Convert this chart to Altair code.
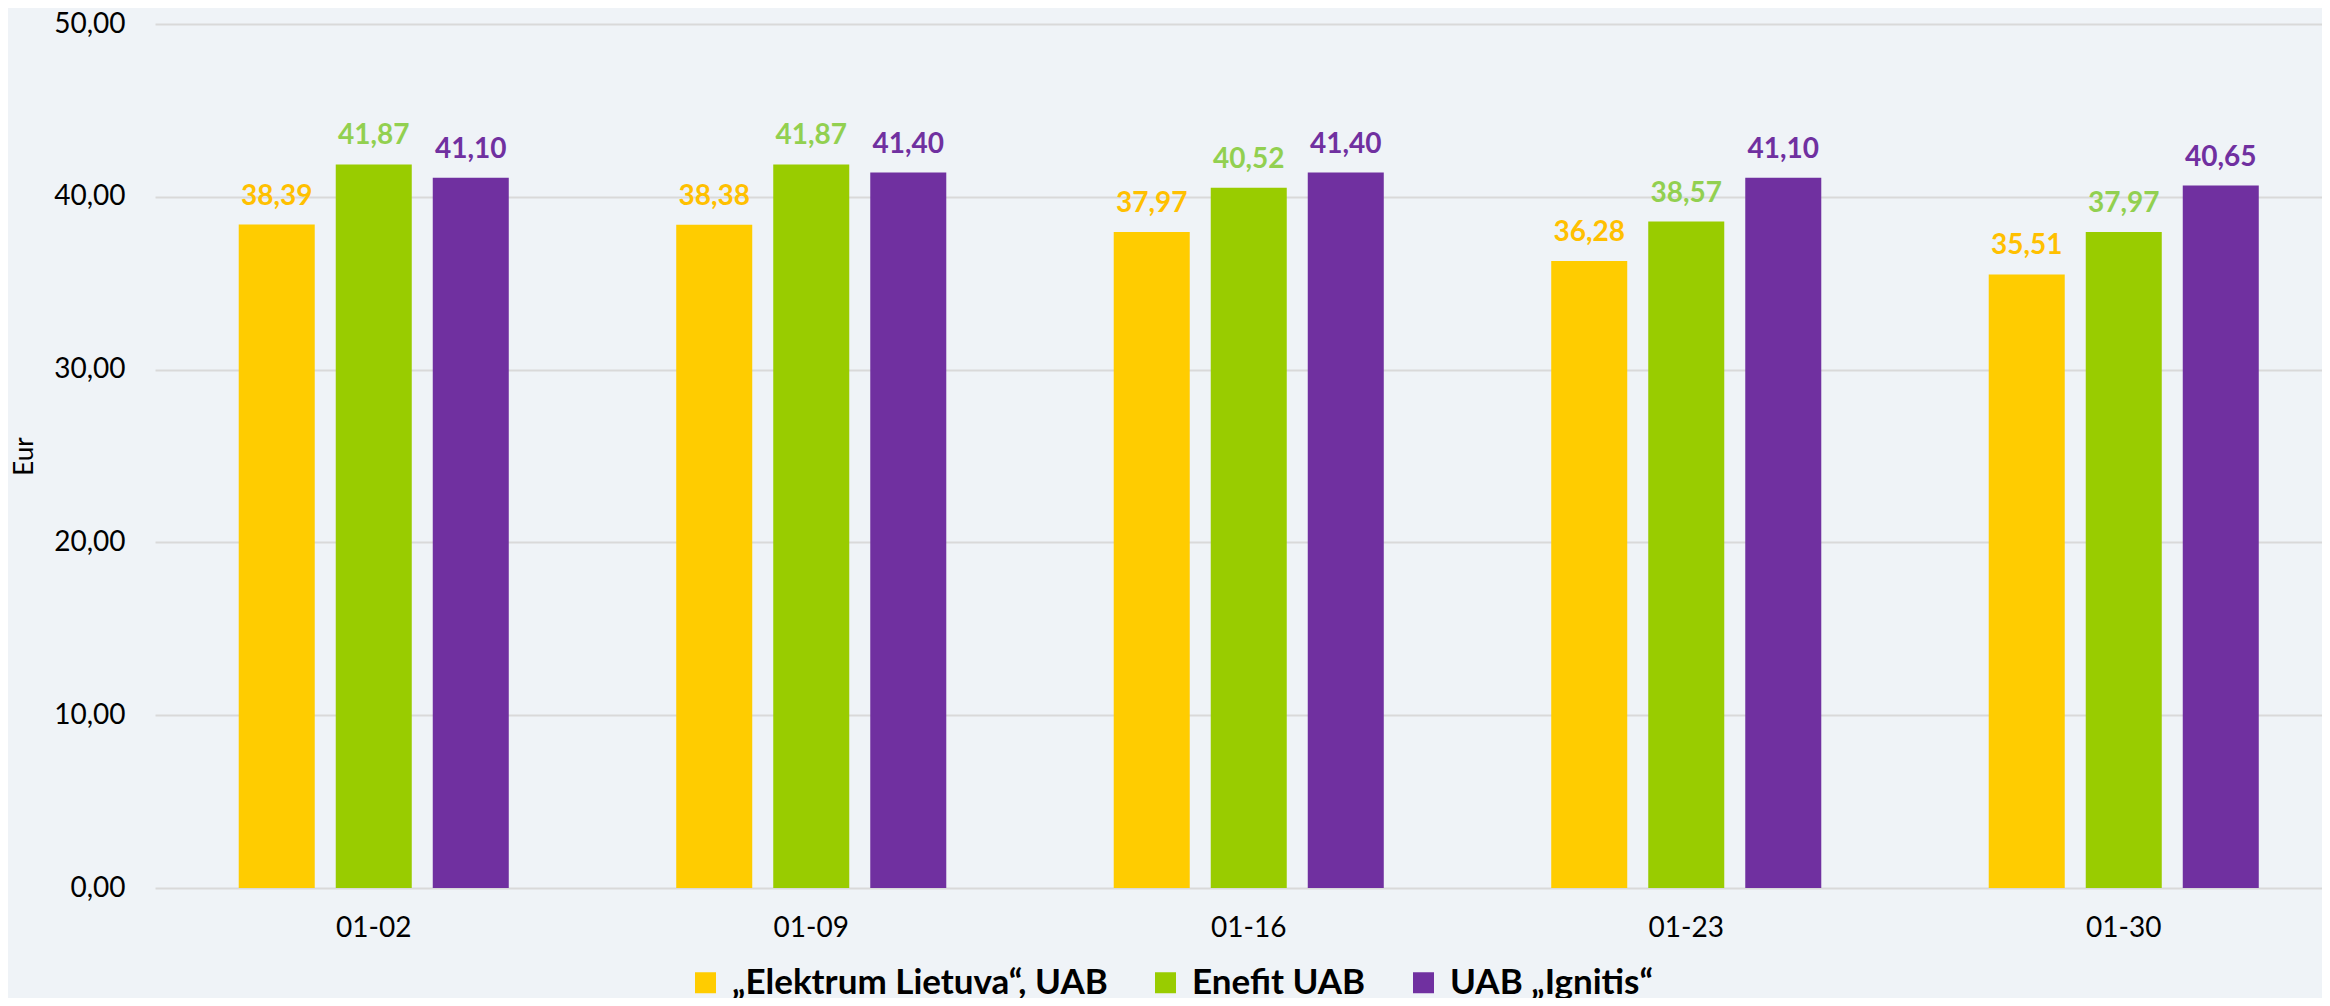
import altair as alt
import pandas as pd

dates = ["01-02", "01-09", "01-16", "01-23", "01-30"]
companies = ["„Elektrum Lietuva“, UAB", "Enefit UAB", "UAB „Ignitis“"]
elektrum = [38.39, 38.38, 37.97, 36.28, 35.51]
enefit = [41.87, 41.87, 40.52, 38.57, 37.97]
ignitis = [41.10, 41.40, 41.40, 41.10, 40.65]

bar_colors = ["#FFCC00", "#99CC00", "#7030A0"]
label_colors = ["#FFC000", "#92D050", "#7030A0"]

rows = []
for series, name in zip([elektrum, enefit, ignitis], companies):
    for d, v in zip(dates, series):
        rows.append({"date": d, "company": name, "value": v})
df = pd.DataFrame(rows)

FONT = "Lato"

x_enc = alt.X(
    "date:N",
    sort=dates,
    scale=alt.Scale(range=[0, 2187.5], paddingInner=0, paddingOuter=0),
    axis=alt.Axis(
        title=None, labelAngle=0, domain=False, ticks=False,
        labelFontSize=28, labelFont=FONT, labelColor="#000000",
        labelPadding=26, grid=False,
    ),
)
xoff = alt.XOffset(
    "company:N", sort=companies,
    scale=alt.Scale(paddingInner=0.2165, paddingOuter=0.863),
)
y_enc = alt.Y(
    "value:Q",
    scale=alt.Scale(domain=[0, 50], nice=False),
    axis=alt.Axis(
        title="Eur", values=[0, 10, 20, 30, 40, 50],
        labelExpr="replace(format(datum.value, '.2f'), '.', ',')",
        domain=False, ticks=False, gridColor="#d9d9d9", gridWidth=2,
        labelFontSize=28, labelFont=FONT, labelColor="#000000", labelPadding=30,
        titleFontSize=26, titleFont=FONT, titleFontWeight="normal",
        titleColor="#000000", titlePadding=16,
    ),
)

bars = alt.Chart(df).mark_bar().encode(
    x=x_enc,
    xOffset=xoff,
    y=y_enc,
    color=alt.Color(
        "company:N", sort=companies,
        scale=alt.Scale(domain=companies, range=bar_colors),
        legend=alt.Legend(
            title=None, orient="none", direction="horizontal", columns=3,
            legendX=533, legendY=941, padding=0,
            symbolType="square", symbolSize=441, symbolStrokeWidth=0,
            labelFontSize=35, labelFont=FONT, labelFontWeight="bold",
            labelColor="#000000", labelOffset=9, columnPadding=40,
            labelLimit=0,
        ),
    ),
)

labels = alt.Chart(df).transform_calculate(
    lbl="replace(format(datum.value, '.2f'), '.', ',')"
).mark_text(
    dy=-20, baseline="alphabetic", fontSize=28, fontWeight="bold", font=FONT,
).encode(
    x=alt.X("date:N", sort=dates),
    xOffset=alt.XOffset("company:N", sort=companies),
    y=alt.Y("value:Q"),
    text="lbl:N",
    color=alt.Color(
        "company:N", sort=companies,
        scale=alt.Scale(domain=companies, range=label_colors),
        legend=None,
    ),
)

chart = alt.layer(bars, labels).resolve_scale(color="independent").properties(
    width=2167,
    height=864,
    autosize=alt.AutoSizeParams(type="none"),
    padding={"left": 147, "top": 16, "right": 0, "bottom": 110},
    background="#eff3f7",
).configure_view(stroke=None)

chart.save("out.html", embed_options={"renderer": "svg", "actions": False})
